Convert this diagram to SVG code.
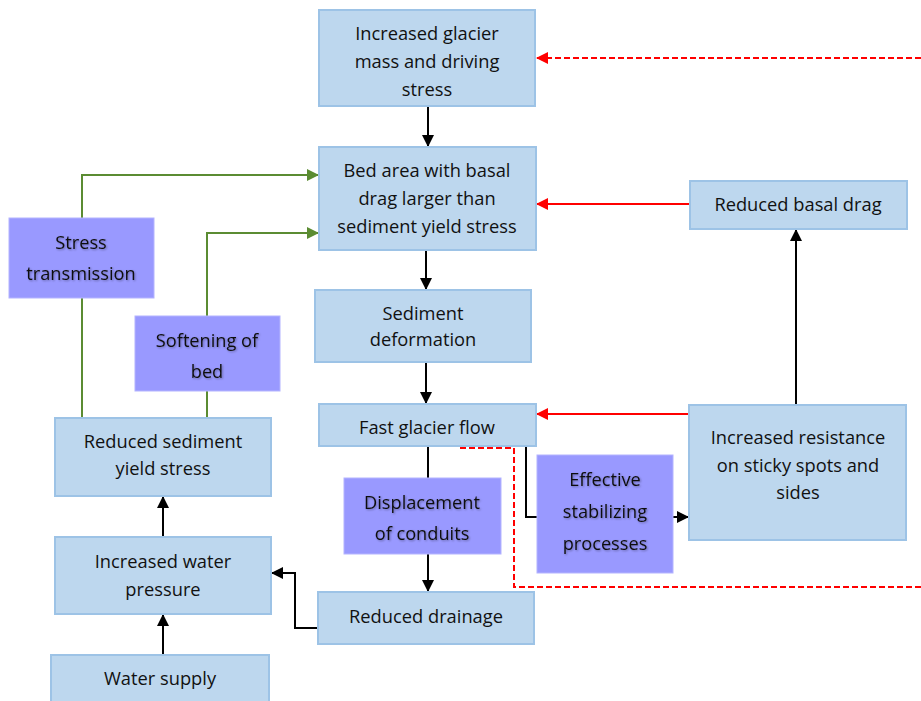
<svg xmlns="http://www.w3.org/2000/svg" width="921" height="701" viewBox="0 0 921 701">
<style>
.b{fill:#BDD7EE;stroke:#9DC3E6;stroke-width:2}
.p{fill:#9999FF;stroke:#B4B4FF;stroke-width:1}
text{font-family:"Open Sans","Liberation Sans",sans-serif;font-size:18.3px;fill:#111;text-anchor:middle}
.pt{font-size:18.2px;filter:url(#sh)}
.k{fill:none;stroke:#000;stroke-width:2}
.r{fill:none;stroke:#FF0000;stroke-width:2}
.rd{fill:none;stroke:#FF0000;stroke-width:2;stroke-dasharray:6,3}
.g{fill:none;stroke:#5B8C32;stroke-width:2}
</style>
<defs>
<marker id="ak" markerWidth="12" markerHeight="12" refX="11" refY="6" orient="auto" markerUnits="userSpaceOnUse"><path d="M0,0 L12,6 L0,12 z" fill="#000"/></marker>
<marker id="ar" markerWidth="12" markerHeight="12" refX="11" refY="6" orient="auto" markerUnits="userSpaceOnUse"><path d="M0,0 L12,6 L0,12 z" fill="#FF0000"/></marker>
<marker id="ag" markerWidth="12" markerHeight="12" refX="11" refY="6" orient="auto" markerUnits="userSpaceOnUse"><path d="M0,0 L12,6 L0,12 z" fill="#5B8C32"/></marker>
<filter id="sh" x="-20%" y="-40%" width="140%" height="180%"><feGaussianBlur in="SourceAlpha" stdDeviation="1.2"/><feOffset dx="0.5" dy="0.5"/><feComponentTransfer><feFuncA type="linear" slope="0.35"/></feComponentTransfer><feMerge><feMergeNode/><feMergeNode in="SourceGraphic"/></feMerge></filter>
</defs>
<g id="connectors">
<path class="g" d="M82,418 V175 H318" marker-end="url(#ag)"/>
<path class="g" d="M230,418 H207 V233 H318" marker-end="url(#ag)"/>
<path class="rd" d="M921,58 H537" marker-end="url(#ar)"/>
<path class="rd" d="M460,448 H514 V587 H921"/>
<path class="r" d="M690,204 H537" marker-end="url(#ar)"/>
<path class="r" d="M689,414 H537" marker-end="url(#ar)"/>
<path class="k" d="M428,106 V146" marker-end="url(#ak)"/>
<path class="k" d="M426,250 V289" marker-end="url(#ak)"/>
<path class="k" d="M426,362 V403" marker-end="url(#ak)"/>
<path class="k" d="M428,446 V591" marker-end="url(#ak)"/>
<path class="k" d="M526,446 V517 H688" marker-end="url(#ak)"/>
<path class="k" d="M796,405 V230" marker-end="url(#ak)"/>
<path class="k" d="M318,628 H295 V573 H272" marker-end="url(#ak)"/>
<path class="k" d="M163,655 V615" marker-end="url(#ak)"/>
<path class="k" d="M163,537 V497" marker-end="url(#ak)"/>
</g>
<g id="n1"><rect class="b" x="319" y="10" width="216" height="96"/><text x="427" y="40">Increased glacier</text><text x="427" y="68">mass and driving</text><text x="427" y="96">stress</text></g>
<g id="n2"><rect class="b" x="319" y="147" width="217" height="103"/><text x="427" y="177">Bed area with basal</text><text x="427" y="205">drag larger than</text><text x="427" y="233">sediment yield stress</text></g>
<g id="n3"><rect class="b" x="315" y="290" width="216" height="72"/><text x="423" y="320">Sediment</text><text x="423" y="346">deformation</text></g>
<g id="n4"><rect class="b" x="319" y="404" width="217" height="42"/><text x="427" y="434">Fast glacier flow</text></g>
<g id="n5"><rect class="b" x="318" y="592" width="216" height="52"/><text x="426" y="623">Reduced drainage</text></g>
<g id="n6"><rect class="b" x="690" y="181" width="217" height="48"/><text x="798" y="211">Reduced basal drag</text></g>
<g id="n7"><rect class="b" x="689" y="405" width="217" height="135"/><text x="798" y="444">Increased resistance</text><text x="798" y="472">on sticky spots and</text><text x="798" y="499">sides</text></g>
<g id="n8"><rect class="b" x="55" y="418" width="216" height="78"/><text x="163" y="448">Reduced sediment</text><text x="163" y="475">yield stress</text></g>
<g id="n9"><rect class="b" x="55" y="537" width="216" height="77"/><text x="163" y="568">Increased water</text><text x="163" y="596">pressure</text></g>
<g id="n10"><rect class="b" x="51" y="655" width="218" height="52"/><text x="160" y="685">Water supply</text></g>
<g id="p1"><rect class="p" x="9" y="218" width="145" height="80"/><text class="pt" x="81" y="249">Stress</text><text class="pt" x="81" y="280">transmission</text></g>
<g id="p2"><rect class="p" x="135" y="316" width="145" height="75"/><text class="pt" x="207" y="347">Softening of</text><text class="pt" x="207" y="378">bed</text></g>
<g id="p3"><rect class="p" x="344" y="478" width="157" height="76"/><text class="pt" x="422" y="509">Displacement</text><text class="pt" x="422" y="540">of conduits</text></g>
<g id="p4"><rect class="p" x="537" y="455" width="136" height="118"/><text class="pt" x="605" y="486">Effective</text><text class="pt" x="605" y="518">stabilizing</text><text class="pt" x="605" y="550">processes</text></g>
</svg>
